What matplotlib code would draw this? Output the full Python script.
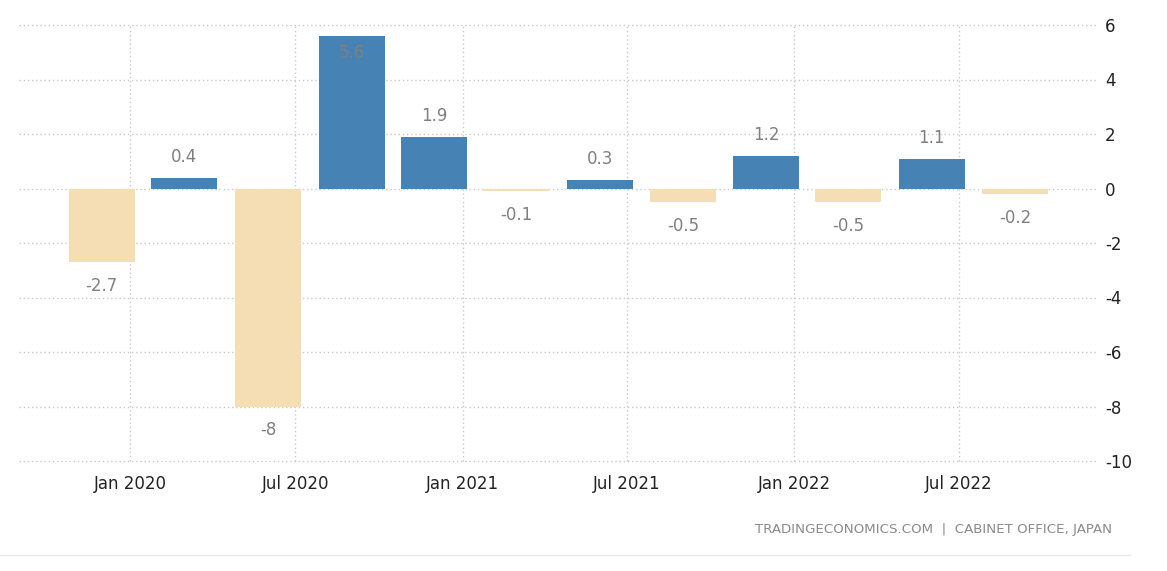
import pandas as pd
import matplotlib.pyplot as plt
import matplotlib.dates as mdates

# dados: PIB trimestral Japão (QoQ %)
quarters = ['2019-12-01', '2020-03-01', '2020-06-01', '2020-09-01', '2020-12-01', '2021-03-01',
            '2021-06-01', '2021-09-01', '2021-12-01', '2022-03-01', '2022-06-01', '2022-09-01']
values = [-2.7, 0.4, -8, 5.6, 1.9, -0.1, 0.3, -0.5, 1.2, -0.5, 1.1, -0.2]
tick_dates = ['2020-01-01', '2020-07-01', '2021-01-01', '2021-07-01', '2022-01-01', '2022-07-01']
tick_labels = ['Jan 2020', 'Jul 2020', 'Jan 2021', 'Jul 2021', 'Jan 2022', 'Jul 2022']
y_ticks = [6, 4, 2, 0, -2, -4, -6, -8, -10]

dates = pd.to_datetime(quarters)
colors = ['#4682B4' if v >= 0 else '#F5DEB3' for v in values]

fig = plt.figure(figsize=(11.67, 5.71), dpi=100)
ax = fig.add_axes([19 / 1167, 110 / 571, 1079 / 1167, 436 / 571])

ax.bar(dates, values, width=72.6, color=colors, zorder=2)

# rótulos dos valores
for d, v in zip(dates, values):
    label = f'{v:g}'
    if v >= 0:
        off = 15 if v + 1.2 < 6 else -12
    else:
        off = -17
    ax.annotate(label, (mdates.date2num(d), v), xytext=(0, off), textcoords='offset points',
                ha='center', va='center', fontsize=12, color='#808080', zorder=3)

ax.set_xlim(mdates.date2num(pd.Timestamp('2019-09-01')), mdates.date2num(pd.Timestamp('2022-12-01')))
ax.set_ylim(-10, 6)
ax.set_xticks(pd.to_datetime(tick_dates))
ax.set_xticklabels(tick_labels)
ax.set_yticks(y_ticks)
ax.set_yticklabels([str(t) for t in y_ticks])
ax.yaxis.tick_right()
ax.tick_params(axis='both', length=0, labelsize=12, labelcolor='#222222')
ax.tick_params(axis='x', pad=10)
ax.tick_params(axis='y', pad=5)

ax.grid(True, linestyle=(0, (1, 2)), color='#c8c8c8', linewidth=1, zorder=0)
for gl in ax.get_xgridlines() + ax.get_ygridlines():
    gl.set_clip_on(False)
ax.set_axisbelow(True)
for s in ax.spines.values():
    s.set_visible(False)

fig.text(1112 / 1167, 1 - 529 / 571, 'TRADINGECONOMICS.COM  |  CABINET OFFICE, JAPAN',
         ha='right', va='center', fontsize=9.6, color='#8a8a8a')
fig.add_artist(plt.Line2D([0, 1130 / 1167], [1 - 555 / 571] * 2, color='#e8e8e8', linewidth=1))

plt.savefig('out.png', dpi=100)
